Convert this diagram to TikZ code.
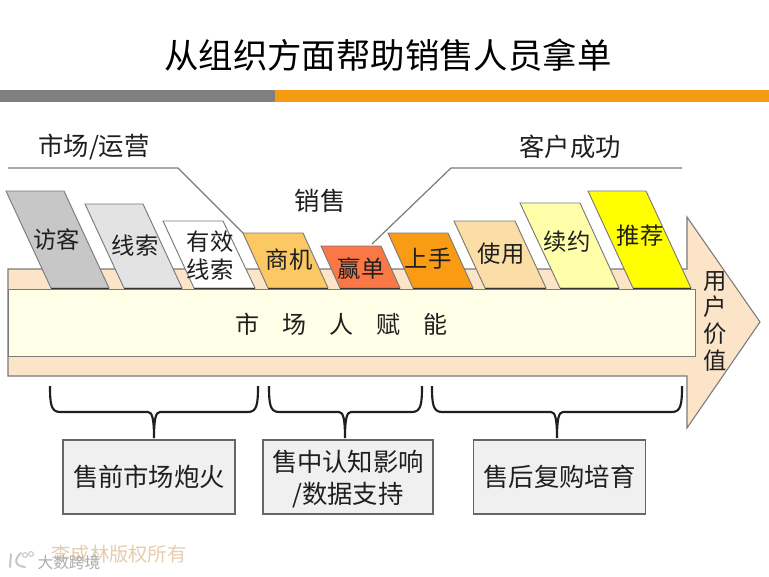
\documentclass[tikz,border=0pt]{standalone}
\usepackage{fontspec}
\setmainfont{Noto Sans CJK SC}
\definecolor{barG}{HTML}{7F7F7F}
\definecolor{barO}{HTML}{F39C12}
\definecolor{arrowF}{HTML}{FBE4C8}
\definecolor{innerF}{HTML}{FFFFE8}
\definecolor{edgeG}{HTML}{7A7A7A}
\tikzset{
  x=0.75pt,y=-0.75pt,
  card/.style={draw=edgeG,line width=0.7pt},
  lab/.style={inner sep=0pt,font=\fontsize{17.5pt}{21pt}\selectfont,text=black!88,align=center},
  head/.style={inner sep=0pt,font=\fontsize{19pt}{21pt}\selectfont,text=black!88},
  sect/.style={draw=edgeG,line width=0.9pt},
  bracket/.style={draw=black!88,line width=1.6pt},
  infobox/.style={draw=black!60,line width=0.8pt,fill=black!6,minimum width=129pt,minimum height=55.5pt,inner sep=0pt,align=center,font=\fontsize{19pt}{24pt}\selectfont,text=black!88},
}
\newcommand{\bracketshape}[5]{% left, right, mid, node, name
  \coordinate (#5l) at (#1,386);
  \coordinate (#5r) at (#2,386);
  \coordinate (#5m) at (#3,412);
  \draw[bracket] (#5l) .. controls (#1,404) and (#1+1,412) .. (#1+10,412)
    -- (#3-6,412) .. controls (#3-2,412) and (#3,418) .. (#3,438)
    (#3,438) .. controls (#3,418) and (#3+2,412) .. (#3+6,412)
    -- (#2-10,412) .. controls (#2-1,412) and (#2,404) .. (#5r);
}
\begin{document}
\begin{tikzpicture}
\useasboundingbox (0,0) rectangle (769,576);
\fill[white] (0,0) rectangle (769,576);
\node[inner sep=0pt,font=\fontsize{25.8pt}{28pt}\selectfont,text=black] (title) at (388,55) {从组织方面帮助销售人员拿单};
\fill[barG] (0,90) rectangle (275,102);
\fill[barO] (275,90) rectangle (769,102);

% big arrow
\draw[draw=edgeG,line width=0.8pt,fill=arrowF] (8,269) -- (687,269) -- (687,217) -- (760,322) -- (687,428) -- (687,376) -- (8,376) -- cycle;
\node[draw=edgeG,line width=0.8pt,fill=innerF,minimum width=515.25pt,minimum height=50.25pt,inner sep=0pt,anchor=north west] (inner) at (8,289) {};
\node[inner sep=0pt,font=\fontsize{18pt}{20pt}\selectfont,text=black!88] (fu) at (341.5,324) {市\hspace{0.95em}场\hspace{0.95em}人\hspace{0.95em}赋\hspace{0.95em}能};

% section lines
\coordinate (mA) at (8,168);
\coordinate (mB) at (178,168);
\coordinate (mC) at (243,233);
\coordinate (cA) at (682,168);
\coordinate (cB) at (451,168);
\coordinate (cC) at (372,244);
\draw[sect] (mA) -- (mB) -- (mC);
\draw[sect] (cA) -- (cB) -- (cC);
\node[head] (hm) at (94,147) {市场/运营};
\node[head] (hs) at (320,201) {销售};
\node[head] (hc) at (570,147) {客户成功};

% cards
\draw[card,fill=black!22] (6,191) -- (64,191) -- (109,288) -- (51,288) -- cycle;
\draw[card,fill=black!11] (85,204) -- (143,204) -- (182,288) -- (124,288) -- cycle;
\draw[card,fill=white] (163,221) -- (223,221) -- (255,288) -- (194,288) -- cycle;
\draw[card,fill={rgb,255:red,252;green,200;blue,100}] (243,233) -- (303,233) -- (328,288) -- (268,288) -- cycle;
\draw[card,fill={rgb,255:red,250;green,120;blue,70}] (321,246) -- (381,246) -- (400,288) -- (340,288) -- cycle;
\draw[card,fill={rgb,255:red,250;green,155;blue,20}] (388,233) -- (448,233) -- (473,288) -- (413,288) -- cycle;
\draw[card,fill={rgb,255:red,251;green,222;blue,165}] (454,221) -- (515,221) -- (546,288) -- (485,288) -- cycle;
\draw[card,fill={rgb,255:red,255;green,255;blue,170}] (520,203) -- (580,203) -- (619,288) -- (560,288) -- cycle;
\draw[card,fill={rgb,255:red,255;green,255;blue,0}] (588,191) -- (646,191) -- (691,288) -- (633,288) -- cycle;
\draw[black!80,line width=0.9pt] (51,288.5) -- (109,288.5) (124,288.5) -- (182,288.5) (194,288.5) -- (255,288.5) (268,288.5) -- (328,288.5) (340,288.5) -- (400,288.5) (413,288.5) -- (473,288.5) (485,288.5) -- (546,288.5) (560,288.5) -- (619,288.5) (633,288.5) -- (691,288.5);

\node[lab] (t1) at (57,240) {访客};
\node[lab] (t2) at (135,246) {线索};
\node[lab] (t3) at (210,256) {有效\\线索};
\node[lab] (t4) at (289,260) {商机};
\node[lab] (t5) at (361,269) {赢单};
\node[lab] (t6) at (428,259) {上手};
\node[lab] (t7) at (501,254) {使用};
\node[lab] (t8) at (567,242) {续约};
\node[lab] (t9) at (640,236) {推荐};
\node[inner sep=0pt,align=center,font=\fontsize{17.5pt}{20pt}\selectfont,text=black!88] (uv) at (715,321) {用\\户\\价\\值};

% lower boxes
\node[infobox] (b1) at (149,477) {售前市场炮火};
\node[infobox,minimum width=127.5pt] (b2) at (348,477) {\rule{0pt}{19.7pt}售中认知影响\\/数据支持};
\node[infobox] (b3) at (559.5,477) {售后复购培育};
\bracketshape{50}{258}{154}{b1}{ba}
\bracketshape{269}{422}{345}{b2}{bb}
\bracketshape{432}{682}{557}{b3}{bc}

% watermark
\node[inner sep=0pt,font=\fontsize{14.5pt}{16pt}\selectfont,text={rgb,255:red,230;green,205;blue,175}] (copy) at (119,554) {李成林版权所有};
\node[inner sep=0pt,font=\fontsize{11.8pt}{14pt}\selectfont,text=black!32] (wm) at (69,562) {大数跨境};
\draw[black!22,line width=1.5pt,line cap=round] (11,554) -- (10,567) (21,553) .. controls (14,559) and (14,566) .. (25,567);
\draw[black!22,line width=0.8pt] (25,555) circle (2.4) (31,554) circle (2.4);
\end{tikzpicture}
\end{document}
